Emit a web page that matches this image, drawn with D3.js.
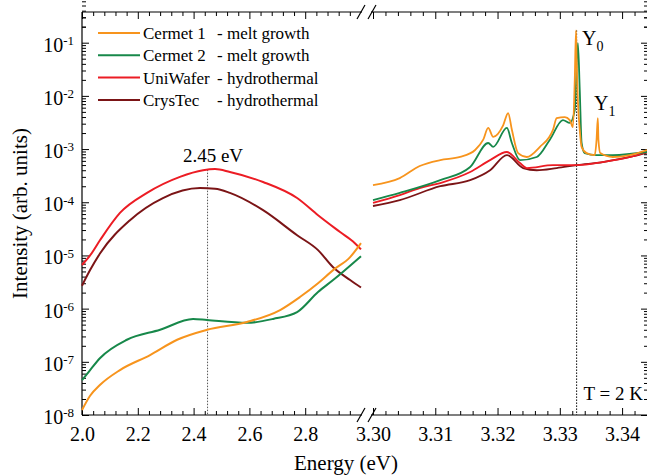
<!DOCTYPE html>
<html>
<head>
<meta charset="utf-8">
<script src="https://cdn.jsdelivr.net/npm/d3@7"></script>
<style>
  body { margin: 0; background: #fff; }
  svg, svg text { font-family: "Liberation Serif", "Times New Roman", serif; }
</style>
</head>
<body>
<div id="chart"></div>
<script>
// series names and descriptions for the legend
const seriesNames = ["Cermet 1", "Cermet 2", "UniWafer", "CrysTec"];
const seriesKinds = ["- melt growth", "- melt growth", "- hydrothermal", "- hydrothermal"];
const seriesColors = ["#f7941d", "#17884a", "#ec1c24", "#7b1416"];

// [energy eV, intensity], left part (deep level band)
const cermet1Left = [[2.0, 1.24e-8], [2.029, 2.3e-8], [2.065, 3.7e-8], [2.136, 7.0e-8], [2.244, 1.34e-7],
  [2.341, 2.6e-7], [2.448, 4.0e-7], [2.591, 5.6e-7], [2.71, 9.4e-7], [2.781, 1.65e-6], [2.846, 3.0e-6],
  [2.9, 5.3e-6], [2.961, 9.3e-6], [3.0, 1.7e-5]];
const cermet2Left = [[2.0, 4.5e-8], [2.029, 7.0e-8], [2.065, 1.18e-7], [2.161, 2.6e-7], [2.28, 4.0e-7],
  [2.398, 6.4e-7], [2.448, 6.1e-7], [2.591, 5.4e-7], [2.685, 6.4e-7], [2.771, 8.6e-7], [2.846, 2.05e-6],
  [2.9, 3.45e-6], [3.0, 9.7e-6]];
const uniwaferLeft = [[2.0, 6.6e-6], [2.029, 1.0e-5], [2.065, 1.95e-5], [2.136, 6.3e-5], [2.233, 1.5e-4],
  [2.351, 3.0e-4], [2.434, 4.0e-4], [2.477, 4.2e-4], [2.53, 3.7e-4], [2.649, 2.4e-4], [2.771, 1.2e-4],
  [2.846, 5.7e-5], [2.925, 2.75e-5], [2.978, 1.7e-5], [3.0, 1.3e-5]];
const crystecLeft = [[2.0, 2.7e-6], [2.029, 5.3e-6], [2.065, 1.1e-5], [2.172, 4.6e-5], [2.29, 1.2e-4],
  [2.423, 1.85e-4], [2.477, 1.8e-4], [2.53, 1.5e-4], [2.649, 7.1e-5], [2.771, 2.4e-5], [2.846, 1.26e-5],
  [2.9, 6.0e-6], [2.961, 3.45e-6], [3.0, 2.5e-6]];

// right part (near band edge, excitons)
const cermet1Right = [[3.3, 2.1e-4], [3.3043, 2.85e-4], [3.3075, 4.8e-4], [3.3108, 6.2e-4], [3.314, 7.1e-4],
  [3.3164, 9.6e-4], [3.3177, 1.5e-3], [3.3185, 2.5e-3], [3.3193, 1.7e-3], [3.3209, 2.8e-3], [3.3217, 4.75e-3],
  [3.3223, 2.3e-3], [3.3233, 8.4e-4], [3.3247, 7.1e-4], [3.3268, 1.1e-3], [3.3289, 2.3e-3], [3.3295, 3.8e-3],
  [3.3308, 4.0e-3], [3.3316, 3.5e-3], [3.3321, 2.6e-3], [3.3324, 0.02], [3.3326, 0.17], [3.3327, 0.047],
  [3.3329, 8.3e-3], [3.3332, 2.3e-3], [3.3335, 1.1e-3], [3.3343, 8.4e-4], [3.3356, 7.7e-4], [3.3359, 1.5e-3],
  [3.3361, 3.8e-3], [3.3362, 1.5e-3], [3.3365, 8.4e-4], [3.3385, 7.1e-4], [3.3412, 7.7e-4], [3.344, 9.6e-4]];
const cermet2Right = [[3.3, 1.1e-4], [3.3043, 1.5e-4], [3.3108, 2.6e-4], [3.3156, 4.6e-4], [3.3185, 1.3e-3],
  [3.3193, 1.1e-3], [3.3215, 2.5e-3], [3.3223, 1.3e-3], [3.3236, 6.2e-4], [3.3263, 7.1e-4], [3.3284, 1.5e-3],
  [3.3305, 3.5e-3], [3.3316, 3.1e-3], [3.3324, 5.4e-3], [3.3329, 0.098], [3.3332, 0.013], [3.3335, 1.3e-3],
  [3.334, 8.4e-4], [3.3359, 7.7e-4], [3.3385, 7.7e-4], [3.344, 8.8e-4]];
const uniwaferRight = [[3.3, 9.7e-5], [3.3043, 1.36e-4], [3.3075, 1.85e-4], [3.3108, 2.3e-4], [3.3156, 3.7e-4],
  [3.3188, 6.2e-4], [3.3215, 8.8e-4], [3.3236, 5.45e-4], [3.3247, 4.4e-4], [3.3289, 5.0e-4], [3.3328, 5.0e-4],
  [3.3369, 5.7e-4], [3.3413, 7.1e-4], [3.344, 8.8e-4]];
const crystecRight = [[3.3, 8.5e-5], [3.3043, 1.1e-4], [3.3108, 2.0e-4], [3.3156, 2.6e-4], [3.3188, 4.0e-4],
  [3.3215, 7.7e-4], [3.3241, 4.4e-4], [3.3263, 4.0e-4], [3.3295, 4.4e-4], [3.3328, 5.0e-4], [3.3369, 5.7e-4],
  [3.3413, 7.1e-4], [3.344, 8.6e-4]];

// ticks
const xTicksLeft = [2.0, 2.2, 2.4, 2.6, 2.8];
const xTicksRight = [3.30, 3.31, 3.32, 3.33, 3.34];
const yExponents = [-8, -7, -6, -5, -4, -3, -2, -1];

// marker lines: energy and the intensity at which they stop
const markerEnergy = [2.45, 3.3327];
const markerTop = [4.1e-4, 0.17];

const W = 647, H = 476;
const plotTop = 12, plotBottom = 415, plotLeft = 82, plotRight = 648;

const svg = d3.select("#chart").append("svg")
    .attr("width", W)
    .attr("height", H);

const xL = d3.scaleLinear().domain([2.0, 3.0]).range([plotLeft, 361]);
const xR = d3.scaleLinear().domain([3.30, 3.3440]).range([373, 647]);
const y = d3.scaleLog().domain([1e-8, Math.pow(10, -0.423)]).range([plotBottom, plotTop]);

const majorY = yExponents.map(e => Math.pow(10, e));
const minorY = [];
yExponents.forEach(e => {
    for (let k = 2; k <= 9; k++) minorY.push(k * Math.pow(10, e));
});
for (let k = 2; k <= 3; k++) minorY.push(k * 0.1);

const minorXL = d3.range(2.0, 2.99, 0.04).filter(v => Math.abs(v * 5 - Math.round(v * 5)) > 1e-6);
const minorXR = d3.range(3.300, 3.3441, 0.002).filter(v => Math.abs(v * 100 - Math.round(v * 100)) > 1e-6);

function cleanAxis(g) {
    g.attr("font-family", null).attr("font-size", null);
    g.select(".domain").remove();
    g.selectAll(".tick line").attr("stroke", "#000");
}

// bottom axes
svg.append("g").attr("transform", `translate(0,${plotBottom})`)
    .call(d3.axisBottom(xL).tickValues(xTicksLeft).tickSize(-7).tickPadding(12).tickFormat(d3.format(".1f")))
    .call(cleanAxis);
svg.append("g").attr("transform", `translate(0,${plotBottom})`)
    .call(d3.axisBottom(xL).tickValues(minorXL).tickSize(-4).tickFormat(""))
    .call(cleanAxis);
svg.append("g").attr("transform", `translate(0,${plotBottom})`)
    .call(d3.axisBottom(xR).tickValues(xTicksRight).tickSize(-7).tickPadding(12).tickFormat(d3.format(".2f")))
    .call(cleanAxis);
svg.append("g").attr("transform", `translate(0,${plotBottom})`)
    .call(d3.axisBottom(xR).tickValues(minorXR).tickSize(-4).tickFormat(""))
    .call(cleanAxis);

// top axes (ticks only)
svg.append("g").attr("transform", `translate(0,${plotTop})`)
    .call(d3.axisTop(xL).tickValues(xTicksLeft).tickSize(-7).tickFormat(""))
    .call(cleanAxis);
svg.append("g").attr("transform", `translate(0,${plotTop})`)
    .call(d3.axisTop(xL).tickValues(minorXL).tickSize(-4).tickFormat(""))
    .call(cleanAxis);
svg.append("g").attr("transform", `translate(0,${plotTop})`)
    .call(d3.axisTop(xR).tickValues(xTicksRight).tickSize(-7).tickFormat(""))
    .call(cleanAxis);
svg.append("g").attr("transform", `translate(0,${plotTop})`)
    .call(d3.axisTop(xR).tickValues(minorXR).tickSize(-4).tickFormat(""))
    .call(cleanAxis);

// left y axis
const yAxisG = svg.append("g").attr("transform", `translate(${plotLeft},0)`)
    .call(d3.axisLeft(y).tickValues(majorY).tickSize(-7).tickPadding(8).tickFormat(""))
    .call(cleanAxis);
yAxisG.selectAll(".tick text").each(function(d) {
    const t = d3.select(this).attr("dy", "0.42em");
    t.append("tspan").text("10");
    t.append("tspan").attr("dy", "-0.5em").attr("font-size", 13).text(Math.round(Math.log10(d)));
});
svg.append("g").attr("transform", `translate(${plotLeft},0)`)
    .call(d3.axisLeft(y).tickValues(minorY).tickSize(-4).tickFormat(""))
    .call(cleanAxis);

// right y axis (ticks only)
svg.append("g").attr("transform", `translate(${plotRight},0)`)
    .call(d3.axisRight(y).tickValues(majorY).tickSize(-7).tickFormat(""))
    .call(cleanAxis);
svg.append("g").attr("transform", `translate(${plotRight},0)`)
    .call(d3.axisRight(y).tickValues(minorY).tickSize(-4).tickFormat(""))
    .call(cleanAxis);

svg.selectAll(".tick text")
    .attr("fill", "#000")
    .attr("font-size", 20);

// frame with axis break
const frame = svg.append("g").attr("stroke", "#000").attr("stroke-width", 1.2).attr("fill", "none");
frame.append("line").attr("x1", plotLeft).attr("x2", plotLeft).attr("y1", plotTop).attr("y2", plotBottom);
[plotTop, plotBottom].forEach(yy => {
    frame.append("line").attr("x1", plotLeft).attr("x2", 362).attr("y1", yy).attr("y2", yy);
    frame.append("line").attr("x1", 371).attr("x2", plotRight).attr("y1", yy).attr("y2", yy);
    [361, 372].forEach(cx => {
        frame.append("line")
            .attr("x1", cx - 4).attr("y1", yy + 7)
            .attr("x2", cx + 4).attr("y2", yy - 7);
    });
});

// dotted marker lines
svg.append("line")
    .attr("x1", xL(markerEnergy[0])).attr("x2", xL(markerEnergy[0]))
    .attr("y1", y(markerTop[0])).attr("y2", plotBottom)
    .attr("stroke", "#555").attr("stroke-width", 1).attr("stroke-dasharray", "1.5,1.5");
svg.append("line")
    .attr("x1", xR(markerEnergy[1])).attr("x2", xR(markerEnergy[1]))
    .attr("y1", y(markerTop[1])).attr("y2", plotBottom)
    .attr("stroke", "#000").attr("stroke-width", 1).attr("stroke-dasharray", "1.5,1.5");

// curves
const lineL = d3.line().x(d => xL(d[0])).y(d => y(d[1])).curve(d3.curveMonotoneX);
const lineR = d3.line().x(d => xR(d[0])).y(d => y(d[1])).curve(d3.curveMonotoneX);

const leftSets = [cermet1Left, cermet2Left, uniwaferLeft, crystecLeft];
const rightSets = [cermet1Right, cermet2Right, uniwaferRight, crystecRight];
const drawOrder = [3, 2, 1, 0];

drawOrder.forEach(i => {
    svg.append("path").datum(leftSets[i])
        .attr("d", lineL)
        .attr("fill", "none")
        .attr("stroke", seriesColors[i])
        .attr("stroke-width", 2);
    svg.append("path").datum(rightSets[i])
        .attr("d", lineR)
        .attr("fill", "none")
        .attr("stroke", seriesColors[i])
        .attr("stroke-width", 1.8);
});

// legend
const legend = svg.append("g");
seriesNames.forEach((name, i) => {
    const ly = 33 + i * 22.3;
    legend.append("line")
        .attr("x1", 98).attr("x2", 140)
        .attr("y1", ly).attr("y2", ly)
        .attr("stroke", seriesColors[i]).attr("stroke-width", 2);
    legend.append("text")
        .attr("x", 143).attr("y", ly + 6)
        .attr("font-size", 17)
        .text(name);
    legend.append("text")
        .attr("x", 217).attr("y", ly + 6)
        .attr("font-size", 17)
        .text(seriesKinds[i]);
});

// annotations
svg.append("text")
    .attr("x", 213).attr("y", 162)
    .attr("text-anchor", "middle")
    .attr("font-size", 19)
    .text("2.45 eV");

const y0 = svg.append("text").attr("x", 582).attr("y", 45).attr("font-size", 20);
y0.append("tspan").text("Y");
y0.append("tspan").attr("dy", 6).attr("font-size", 14).text("0");

const y1 = svg.append("text").attr("x", 594).attr("y", 110).attr("font-size", 20);
y1.append("tspan").text("Y");
y1.append("tspan").attr("dy", 6).attr("font-size", 14).text("1");

svg.append("text")
    .attr("x", 643).attr("y", 400)
    .attr("text-anchor", "end")
    .attr("font-size", 19)
    .text("T = 2 K");

// axis titles
svg.append("text")
    .attr("x", 346).attr("y", 470)
    .attr("text-anchor", "middle")
    .attr("font-size", 21)
    .text("Energy (eV)");

svg.append("text")
    .attr("transform", `translate(27,${(plotTop + plotBottom) / 2}) rotate(-90)`)
    .attr("text-anchor", "middle")
    .attr("font-size", 21)
    .text("Intensity (arb. units)");
</script>
</body>
</html>
